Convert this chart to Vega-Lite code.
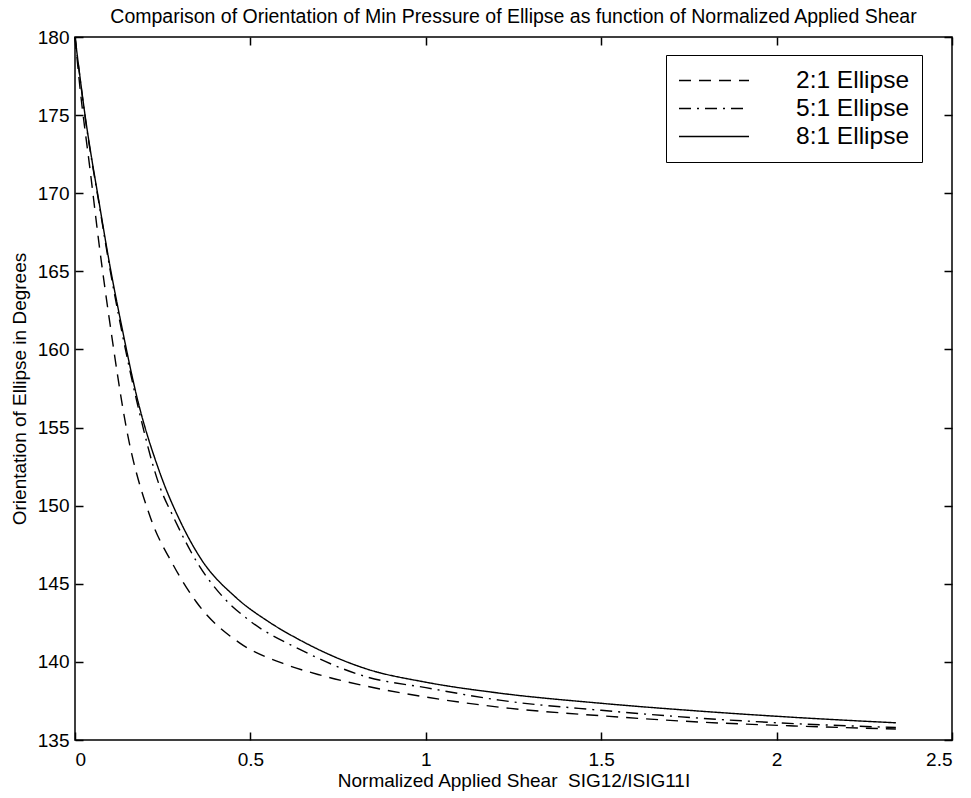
{
  "$schema": "https://vega.github.io/schema/vega-lite/v6.json",
  "width": 877,
  "height": 703,
  "autosize": "none",
  "padding": {"left": 75, "top": 37, "right": 19, "bottom": 58},
  "background": "white",
  "title": {
    "text": "Comparison of Orientation of Min Pressure of Ellipse as function of Normalized Applied Shear",
    "font": "Liberation Sans",
    "fontSize": 19.5,
    "fontWeight": "normal",
    "color": "black",
    "anchor": "middle",
    "offset": 1
  },
  "config": {
    "font": "Liberation Sans",
    "view": {"stroke": "black", "strokeWidth": 1.5},
    "axis": {
      "grid": false,
      "domainColor": "black",
      "domainWidth": 1.5,
      "tickColor": "black",
      "tickWidth": 1.5,
      "labelFont": "Liberation Sans",
      "labelFontSize": 19,
      "labelColor": "black",
      "titleFont": "Liberation Sans",
      "titleFontSize": 19,
      "titleFontWeight": "normal",
      "titleColor": "black"
    }
  },
  "data": {
    "values": [
      {"s": "2:1 Ellipse", "x": 0, "y": 180},
      {"s": "2:1 Ellipse", "x": 0.014, "y": 176.8},
      {"s": "2:1 Ellipse", "x": 0.043, "y": 171.5},
      {"s": "2:1 Ellipse", "x": 0.07, "y": 166.5},
      {"s": "2:1 Ellipse", "x": 0.1, "y": 161.6},
      {"s": "2:1 Ellipse", "x": 0.147, "y": 154.9},
      {"s": "2:1 Ellipse", "x": 0.214, "y": 149.3},
      {"s": "2:1 Ellipse", "x": 0.28, "y": 146.2},
      {"s": "2:1 Ellipse", "x": 0.347, "y": 143.8},
      {"s": "2:1 Ellipse", "x": 0.47, "y": 141.2},
      {"s": "2:1 Ellipse", "x": 0.593, "y": 139.9},
      {"s": "2:1 Ellipse", "x": 0.7, "y": 139.15},
      {"s": "2:1 Ellipse", "x": 0.83, "y": 138.45},
      {"s": "2:1 Ellipse", "x": 1.0, "y": 137.75},
      {"s": "2:1 Ellipse", "x": 1.21, "y": 137.1},
      {"s": "2:1 Ellipse", "x": 1.5, "y": 136.55},
      {"s": "2:1 Ellipse", "x": 1.78, "y": 136.15},
      {"s": "2:1 Ellipse", "x": 2.05, "y": 135.9},
      {"s": "2:1 Ellipse", "x": 2.34, "y": 135.7},
      {"s": "5:1 Ellipse", "x": 0, "y": 180},
      {"s": "5:1 Ellipse", "x": 0.028, "y": 175.0},
      {"s": "5:1 Ellipse", "x": 0.071, "y": 169.0},
      {"s": "5:1 Ellipse", "x": 0.1, "y": 165.1},
      {"s": "5:1 Ellipse", "x": 0.133, "y": 161.2},
      {"s": "5:1 Ellipse", "x": 0.176, "y": 156.7},
      {"s": "5:1 Ellipse", "x": 0.242, "y": 151.2},
      {"s": "5:1 Ellipse", "x": 0.28, "y": 149.3},
      {"s": "5:1 Ellipse", "x": 0.35, "y": 146.3},
      {"s": "5:1 Ellipse", "x": 0.42, "y": 144.2},
      {"s": "5:1 Ellipse", "x": 0.5, "y": 142.6},
      {"s": "5:1 Ellipse", "x": 0.641, "y": 140.8},
      {"s": "5:1 Ellipse", "x": 0.83, "y": 139.05},
      {"s": "5:1 Ellipse", "x": 1.0, "y": 138.35},
      {"s": "5:1 Ellipse", "x": 1.21, "y": 137.55},
      {"s": "5:1 Ellipse", "x": 1.5, "y": 136.9},
      {"s": "5:1 Ellipse", "x": 1.78, "y": 136.4},
      {"s": "5:1 Ellipse", "x": 2.05, "y": 136.05},
      {"s": "5:1 Ellipse", "x": 2.34, "y": 135.8},
      {"s": "8:1 Ellipse", "x": 0, "y": 180},
      {"s": "8:1 Ellipse", "x": 0.028, "y": 175.1},
      {"s": "8:1 Ellipse", "x": 0.071, "y": 169.1},
      {"s": "8:1 Ellipse", "x": 0.1, "y": 165.3},
      {"s": "8:1 Ellipse", "x": 0.133, "y": 161.5},
      {"s": "8:1 Ellipse", "x": 0.176, "y": 157.0},
      {"s": "8:1 Ellipse", "x": 0.242, "y": 152.1},
      {"s": "8:1 Ellipse", "x": 0.3, "y": 149.0},
      {"s": "8:1 Ellipse", "x": 0.356, "y": 146.7},
      {"s": "8:1 Ellipse", "x": 0.46, "y": 144.1},
      {"s": "8:1 Ellipse", "x": 0.55, "y": 142.6},
      {"s": "8:1 Ellipse", "x": 0.641, "y": 141.4},
      {"s": "8:1 Ellipse", "x": 0.831, "y": 139.55},
      {"s": "8:1 Ellipse", "x": 1.0, "y": 138.7},
      {"s": "8:1 Ellipse", "x": 1.21, "y": 138.0},
      {"s": "8:1 Ellipse", "x": 1.5, "y": 137.35},
      {"s": "8:1 Ellipse", "x": 1.78, "y": 136.85},
      {"s": "8:1 Ellipse", "x": 2.05, "y": 136.45},
      {"s": "8:1 Ellipse", "x": 2.34, "y": 136.1}
    ]
  },
  "layer": [
    {
      "mark": {"type": "line", "color": "black", "strokeWidth": 1.4, "interpolate": "monotone"},
      "encoding": {
        "x": {
          "field": "x", "type": "quantitative",
          "scale": {"domain": [0, 2.5], "nice": false},
          "axis": {
            "orient": "bottom",
            "title": "Normalized Applied Shear\u00a0 SIG12/ISIG11I",
            "values": [0, 0.5, 1, 1.5, 2, 2.5],
            "format": "~g",
            "tickSize": -8,
            "labelPadding": 18,
            "titlePadding": 2,
            "domain": false
          }
        },
        "y": {
          "field": "y", "type": "quantitative",
          "scale": {"domain": [135, 180], "nice": false, "zero": false},
          "axis": {
            "orient": "left",
            "title": "Orientation of Ellipse in Degrees",
            "values": [135, 140, 145, 150, 155, 160, 165, 170, 175, 180],
            "tickSize": -8,
            "labelPadding": 14,
            "titlePadding": 8,
            "domain": false
          }
        },
        "strokeDash": {
          "field": "s", "type": "nominal",
          "scale": {
            "domain": ["2:1 Ellipse", "5:1 Ellipse", "8:1 Ellipse"],
            "range": [[12, 8], [12, 6, 2, 6], [1, 0]]
          },
          "legend": {
            "title": null,
            "orient": "none",
            "legendX": 591,
            "legendY": 18,
            "padding": 12,
            "strokeColor": "black",
            "fillColor": "white",
            "symbolType": "stroke",
            "symbolSize": 4900,
            "symbolStrokeWidth": 1.5,
            "symbolStrokeColor": "black",
            "clipHeight": 27,
            "labelOffset": 46,
            "labelFont": "Liberation Sans",
            "labelFontSize": 24.5,
            "labelColor": "black",
            "labelLimit": 300,
            "rowPadding": 1
          }
        }
      }
    },
    {
      "mark": {"type": "line", "opacity": 0},
      "encoding": {
        "x": {
          "field": "x", "type": "quantitative",
          "axis": {
            "orient": "top",
            "title": null,
            "values": [0, 0.5, 1, 1.5, 2, 2.5],
            "labels": false,
            "domain": false,
            "tickSize": -8
          }
        },
        "y": {
          "field": "y", "type": "quantitative",
          "axis": {
            "orient": "right",
            "title": null,
            "values": [135, 140, 145, 150, 155, 160, 165, 170, 175, 180],
            "labels": false,
            "domain": false,
            "tickSize": -8
          }
        },
        "detail": {"field": "s"}
      }
    }
  ],
  "resolve": {"axis": {"x": "independent", "y": "independent"}}
}
